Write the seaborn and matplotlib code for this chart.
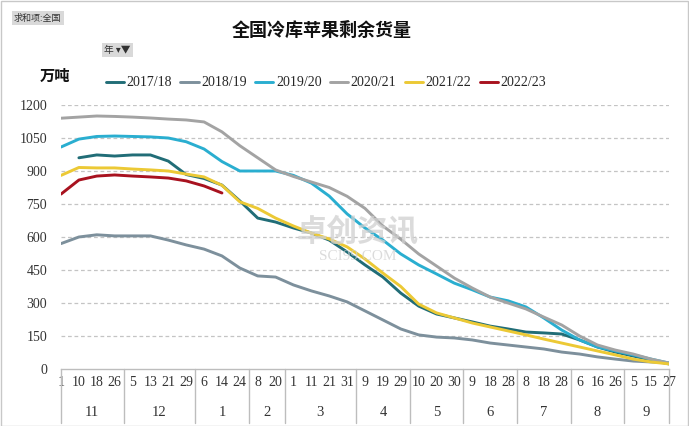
import numpy as np
import pandas as pd
import matplotlib
matplotlib.use("Agg")
import matplotlib.pyplot as plt
import matplotlib.transforms as mtransforms
from matplotlib.lines import Line2D
from matplotlib.patches import Rectangle
import seaborn as sns

nan = np.nan

# ---- data ----
day_labels = ["1", "10", "18", "26", "5", "13", "21", "29", "6", "14", "24", "8", "20",
              "1", "11", "21", "31", "9", "19", "29", "10", "20", "30", "9", "18", "28",
              "8", "18", "28", "6", "16", "26", "5", "15", "27"]
month_labels = ["11", "12", "1", "2", "3", "4", "5", "6", "7", "8", "9"]
month_counts = [4, 4, 3, 2, 4, 3, 3, 3, 3, 3, 3]

seasons = ["2017/18", "2018/19", "2019/20", "2020/21", "2021/22", "2022/23"]

s2017_18 = [nan, 960, 973, 968, 973, 973, 945, 884, 866, 836, 764, 686, 668, 641, 618, 586,
            532, 473, 418, 345, 286, 250, 232, 214, 195, 182, 168, 164, 159, 132, 100, 77, 59, 41, 23]
s2018_19 = [570, 600, 610, 605, 605, 605, 586, 564, 545, 514, 459, 423, 418, 382, 355, 332,
            305, 264, 223, 182, 155, 145, 141, 132, 118, 109, 100, 91, 77, 68, 55, 45, 36, 32, 27]
s2019_20 = [1009, 1045, 1057, 1059, 1057, 1055, 1050, 1033, 1000, 943, 900, 900, 900, 880, 845,
            786, 705, 641, 586, 523, 473, 432, 390, 360, 327, 310, 282, 232, 177, 132, 100, 82, 64, 45, 27]
s2020_21 = [1140, 1145, 1150, 1148, 1145, 1141, 1136, 1132, 1123, 1078, 1015, 960, 905, 875, 850,
            825, 785, 730, 650, 590, 523, 468, 413, 368, 327, 300, 273, 236, 200, 150, 109, 86, 68, 45, 27]
s2021_22 = [880, 916, 914, 914, 909, 905, 900, 886, 873, 835, 760, 730, 686, 650, 618, 591,
            555, 500, 436, 375, 295, 255, 232, 209, 191, 173, 155, 136, 118, 100, 82, 64, 45, 32, 23]
s2022_23 = [795, 859, 877, 882, 877, 873, 868, 855, 832, 800] + [nan] * 25

colors = ["#216d77", "#7d909c", "#2aaed0", "#a3a3a3", "#ecc935", "#a8121f"]

series = [s2017_18, s2018_19, s2019_20, s2020_21, s2021_22, s2022_23]
rows = []
for name, vals in zip(seasons, series):
    for i, v in enumerate(vals):
        rows.append({"pos": i, "season": name, "value": v})
df = pd.DataFrame(rows).dropna()
palette = dict(zip(seasons, colors))

# ---- figure ----
sns.set_theme(style="white")
plt.rcParams["font.family"] = ["Liberation Serif", "Noto Sans CJK SC", "DejaVu Sans"]
cjk = ["Noto Sans CJK SC", "DejaVu Sans"]

W, H = 689, 426
fig = plt.figure(figsize=(W / 100, H / 100), dpi=100)
fig.patch.set_facecolor("white")
ax = fig.add_axes([61 / W, 1 - 369 / H, (669 - 61) / W, (369 - 105) / H])

n = len(day_labels)
ax.set_xlim(0, n - 1)
ax.set_ylim(0, 1200)

# gridlines
ax.set_yticks(np.arange(0, 1201, 150))
for yv in np.arange(150, 1201, 150):
    ax.axhline(yv, color="#c4c4c4", lw=0.9, ls=(0, (3, 2.2)), zorder=0)

sns.lineplot(data=df, x="pos", y="value", hue="season", palette=palette,
             hue_order=seasons, linewidth=2.1, ax=ax, legend=False)

ax.set_xlabel("")
ax.set_ylabel("")
for s in ["top", "right", "left"]:
    ax.spines[s].set_visible(False)
ax.spines["bottom"].set_color("#bdbdbd")
ax.spines["bottom"].set_linewidth(1.0)

ax.set_xticks(range(n))
ax.set_xticklabels(day_labels)
ax.tick_params(axis="x", length=0, pad=5, labelsize=10, colors="#333333")
ax.tick_params(axis="y", length=0, pad=10, labelsize=10, colors="#333333")

# group separators and month labels
trans = mtransforms.blended_transform_factory(ax.transData, ax.transAxes)
bounds = [0.0]
cum = 0
for c in month_counts[:-1]:
    cum += c
    bounds.append(cum - 0.5)
bounds.append(n - 1)
for b in bounds:
    ax.plot([b, b], [0, -0.205], transform=trans, color="#bdbdbd", lw=1.0, clip_on=False)
for i, m in enumerate(month_labels):
    cx = (bounds[i] + bounds[i + 1]) / 2
    ax.text(cx, -0.163, m, transform=trans, ha="center", va="center",
            fontsize=10.5, color="#333333")

# watermark
fig.text(358 / W, 1 - 232 / H, "卓创资讯", family=cjk, fontsize=22, fontweight="bold",
         color="#d0d0d0", alpha=0.75, ha="center", va="center", zorder=0.5)
fig.text(358 / W, 1 - 257 / H, "SCI99.COM", fontsize=11, color="#d0d0d0",
         alpha=0.75, ha="center", va="center", zorder=0.5)

# title and annotations
fig.text(322 / W, 1 - 30 / H, "全国冷库苹果剩余货量", family=cjk, fontsize=13,
         fontweight="bold", ha="center", va="center", color="#111111")
fig.text(55 / W, 1 - 76 / H, "万吨", family=cjk, fontsize=11, fontweight="bold",
         ha="center", va="center", color="#111111")
fig.text(14 / W, 1 - 18 / H, "求和项:全国", family=cjk, fontsize=6.5, ha="left",
         va="center", color="#333333",
         bbox=dict(facecolor="#d9d9d9", edgecolor="none", pad=1.5))
fig.text(104 / W, 1 - 50 / H, "年 ▾▼", family=cjk, fontsize=7, ha="left",
         va="center", color="#333333",
         bbox=dict(facecolor="#d9d9d9", edgecolor="none", pad=1.5))

# legend
handles = [Line2D([0], [0], color=c, lw=2.1) for c in colors]
fig.legend(handles, seasons, loc="center", bbox_to_anchor=(326 / W, 1 - 83 / H),
           ncol=6, frameon=False, fontsize=10, handlelength=1.3, handletextpad=0.2,
           columnspacing=0.6, borderpad=0.2)

# outer border
fig.patches.append(Rectangle((0.5 / W, 0.5 / H), 1 - 1.5 / W, 1 - 1.5 / H,
                             transform=fig.transFigure, fill=False,
                             edgecolor="#c8c8c8", lw=1.0))

fig.savefig("out.png", dpi=100, facecolor="white")
